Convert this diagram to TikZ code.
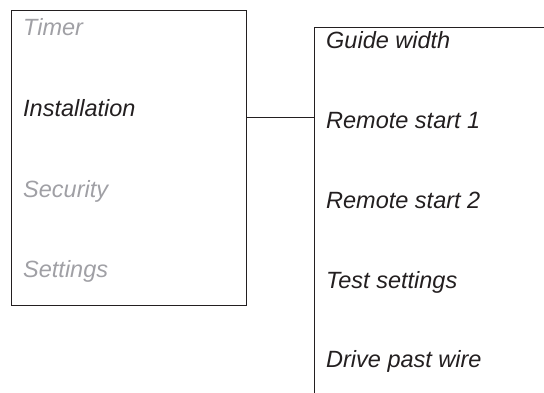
\documentclass[tikz,border=0pt]{standalone}
\usepackage{fontspec}
\setmainfont{Liberation Sans}
\definecolor{dimtext}{RGB}{160,160,165}
\definecolor{ink}{RGB}{35,31,32}
\begin{document}
\begin{tikzpicture}[x=1pt,y=-1pt,
  item/.style={anchor=base west, inner sep=0pt, font=\fontsize{23.5}{28}\selectfont\itshape},
  off/.style={item, text=dimtext},
  on/.style={item, text=ink},
  frame/.style={draw=ink, line width=1.1pt},
  wire/.style={draw=ink, line width=0.9pt}]
\useasboundingbox (0,0) rectangle (544,393);
\node[frame, anchor=north west, minimum width=235pt, minimum height=295pt, inner sep=0pt] (menu) at (11,10) {};
\node[off] (timer) at (23,36) {Timer};
\node[on] (inst) at (23,117) {Installation};
\node[off] (sec) at (23,197) {Security};
\node[off] (set) at (23,277) {Settings};
\coordinate (tr) at (544,27);
\coordinate (tl) at (314,27);
\coordinate (bl) at (314,393);
\coordinate (j) at (314,117);
\draw[wire] (tr) -- (tl) -- (bl);
\draw[wire] (menu.east |- j) -- (j);
\node[on] (g) at (326,49) {Guide width};
\node[on] (r1) at (326,129) {Remote start 1};
\node[on] (r2) at (326,208) {Remote start 2};
\node[on] (ts) at (326,288) {Test settings};
\node[on] (dp) at (326,367) {Drive past wire};
\end{tikzpicture}
\end{document}
